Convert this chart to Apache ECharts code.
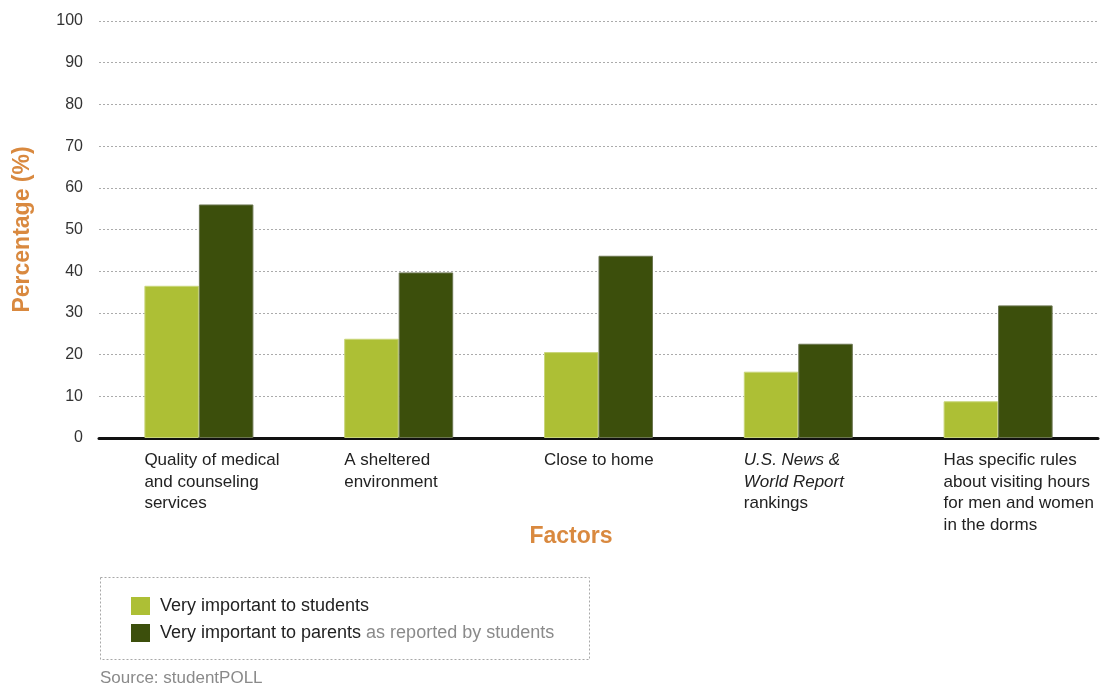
<!DOCTYPE html>
<html>
<head>
<meta charset="utf-8">
<script src="https://cdn.jsdelivr.net/npm/echarts@6/dist/echarts.min.js"></script>
<style>html,body{margin:0;padding:0;background:#fff}#c{width:1107px;height:685px}</style>
</head>
<body>
<div id="c"></div>
<script>
const categories = [
  'Quality of medical\nand counseling\nservices',
  'A sheltered\nenvironment',
  'Close to home',
  'U.S. News &\nWorld Report\nrankings',
  'Has specific rules\nabout visiting hours\nfor men and women\nin the dorms'
];
const italicLines = ['U.S. News &', 'World Report'];
const studentsName = 'Very important to students';
const parentsName = 'Very important to parents';
const parentsNote = 'as reported by students';
const students = [36.5, 23.8, 20.6, 15.9, 8.8];
const parents = [56, 39.7, 43.7, 22.6, 31.8];
const yTicks = { min: 0, max: 100, interval: 10 };

const FF = 'Liberation Sans, Arial, sans-serif';
const orange = '#d9893f';
const chart = echarts.init(document.getElementById('c'), null, { renderer: 'canvas' });
chart.setOption({
  animation: false,
  textStyle: { fontFamily: FF },
  grid: { left: 99, right: 9, top: 21, bottom: 247 },
  title: [
    { text: 'Factors', left: 571, top: 525, textAlign: 'center', padding: 0,
      textStyle: { color: orange, fontSize: 23, fontWeight: 'bold', fontFamily: FF } },
    { text: 'Source: studentPOLL', left: 100, top: 670, padding: 0,
      textStyle: { color: '#8a8a8a', fontSize: 17, fontWeight: 'normal', fontFamily: FF } }
  ],
  legend: {
    orient: 'vertical', left: 131, top: 597, padding: 0,
    itemWidth: 19, itemHeight: 18, itemGap: 9,
    icon: 'rect',
    itemStyle: { borderWidth: 0 },
    data: [studentsName, parentsName],
    textStyle: {
      fontSize: 18, color: '#222', lineHeight: 18,
      rich: { a: { fontSize: 18, color: '#222', lineHeight: 18 }, b: { fontSize: 18, color: '#8a8a8a', lineHeight: 18 } }
    },
    formatter: function (name) {
      return name === parentsName ? ' {a|' + name + '} {b|' + parentsNote + '}' : ' {a|' + name + '}';
    }
  },
  graphic: [{
    type: 'rect', left: 98, top: 575,
    shape: { width: 489, height: 82 },
    style: { fill: 'none', stroke: '#a8a8a8', lineWidth: 1, lineDash: [2, 2] }
  }],
  xAxis: {
    type: 'category', data: categories,
    axisLine: { lineStyle: { color: '#111', width: 3 } },
    axisTick: { show: false },
    axisLabel: {
      interval: 0, margin: 12, align: 'center', width: 109,
      color: '#222', fontSize: 17, lineHeight: 21.5,
      formatter: function (v) {
        return v.split('\n').map(function (l) {
          return (italicLines.indexOf(l) >= 0 ? '{i|' : '{n|') + l + '}';
        }).join('\n');
      },
      rich: {
        n: { align: 'left', fontSize: 17, lineHeight: 21.5, color: '#222' },
        i: { align: 'left', fontSize: 17, lineHeight: 21.5, color: '#222', fontStyle: 'italic' }
      }
    }
  },
  yAxis: {
    type: 'value', min: yTicks.min, max: yTicks.max, interval: yTicks.interval,
    name: 'Percentage (%)', nameLocation: 'middle', nameGap: 65,
    nameTextStyle: { color: orange, fontSize: 23, fontWeight: 'bold' },
    axisLine: { show: false }, axisTick: { show: false },
    axisLabel: { margin: 16, color: '#333', fontSize: 16 },
    splitLine: { lineStyle: { color: '#ababab', type: [2, 2], width: 1 } }
  },
  series: [
    { name: studentsName, type: 'bar', data: students, barWidth: 54.5, barGap: '0%',
      itemStyle: { color: '#adbf35', borderColor: '#c9d67a', borderWidth: 1 } },
    { name: parentsName, type: 'bar', data: parents, barWidth: 54.5, barGap: '0%',
      itemStyle: { color: '#3c4f0c', borderColor: '#6b7550', borderWidth: 1 } }
  ]
});
</script>
</body>
</html>
